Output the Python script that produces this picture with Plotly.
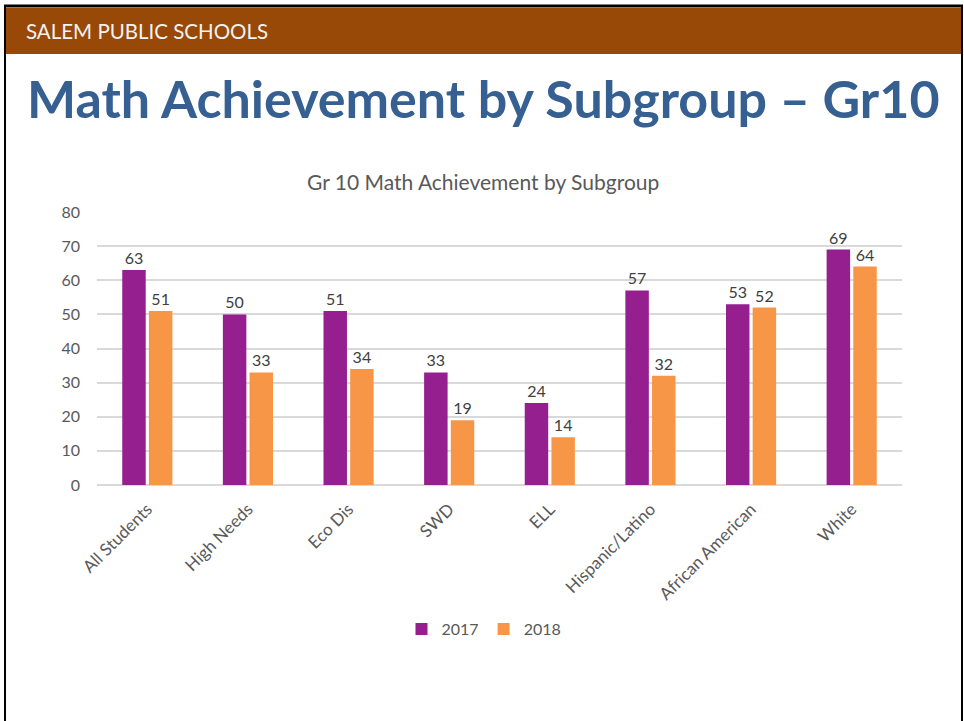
import plotly.graph_objects as go

categories = ["All Students", "High Needs", "Eco Dis", "SWD", "ELL",
              "Hispanic/Latino", "African American", "White"]
values_2017 = [63, 50, 51, 33, 24, 57, 53, 69]
values_2018 = [51, 33, 34, 19, 14, 32, 52, 64]
series_names = ["2017", "2018"]
y_ticks = [0, 10, 20, 30, 40, 50, 60, 70, 80]

W, H = 964, 721
L, R, T, B = 97, 62, 212, 236
font_chart = "Lato, Open Sans, sans-serif"
gray = "#595959"

fig = go.Figure()
fig.add_trace(go.Bar(x=categories, y=values_2017, name=series_names[0],
                     marker=dict(color="#951F8E", line=dict(width=0)),
                     text=values_2017, textposition="outside",
                     textfont=dict(size=16, color="#404040", family=font_chart),
                     cliponaxis=False))
fig.add_trace(go.Bar(x=categories, y=values_2018, name=series_names[1],
                     marker=dict(color="#F79646", line=dict(width=0)),
                     text=values_2018, textposition="outside",
                     textfont=dict(size=16, color="#404040", family=font_chart),
                     cliponaxis=False))

ph = H - T - B

def py(pix):
    return (H - B - pix) / ph

def px(pix):
    return (pix - L) / (W - L - R)

fig.update_layout(
    width=W, height=H,
    margin=dict(l=L, r=R, t=T, b=B),
    paper_bgcolor="white", plot_bgcolor="white",
    barmode="group", bargap=0.47, bargroupgap=0.12,
    showlegend=True,
    legend=dict(orientation="h", x=px(484), xanchor="center", y=py(629), yanchor="middle",
                font=dict(size=16, color=gray, family=font_chart),
                itemwidth=30, traceorder="normal"),
    font=dict(family=font_chart, color=gray),
    xaxis=dict(tickangle=-45, tickfont=dict(size=17, color=gray, family=font_chart),
               showgrid=False, showline=False, ticks="", zeroline=False,
               ticklabelstandoff=10),
    yaxis=dict(range=[0, 80], tickvals=y_ticks, showgrid=True, gridcolor="#D9D9D9",
               gridwidth=1.5, zeroline=True, zerolinecolor="#D9D9D9", zerolinewidth=2,
               tickfont=dict(size=16, color=gray, family=font_chart), ticks="",
               ticklabelstandoff=16),
    shapes=[
        dict(type="rect", xref="paper", yref="paper", x0=px(6), x1=px(961),
             y0=py(54), y1=py(8), fillcolor="#984807", line=dict(width=0), layer="below"),
        dict(type="line", xref="paper", yref="paper", x0=px(5), x1=px(5),
             y0=py(6), y1=py(722), line=dict(color="black", width=2)),
        dict(type="line", xref="paper", yref="paper", x0=px(962), x1=px(962),
             y0=py(6), y1=py(722), line=dict(color="black", width=2)),
        dict(type="line", xref="paper", yref="paper", x0=px(4), x1=px(963),
             y0=py(6), y1=py(6), line=dict(color="black", width=3)),
    ],
    annotations=[
        dict(text="SALEM PUBLIC SCHOOLS", xref="paper", yref="paper", x=px(24), y=py(31),
             xanchor="left", yanchor="middle", showarrow=False,
             font=dict(size=20.5, color="#F2F2F2", family="Lato, sans-serif")),
        dict(text="<b>Math Achievement by Subgroup – Gr10</b>", xref="paper", yref="paper",
             x=px(25), y=py(98), xanchor="left", yanchor="middle", showarrow=False,
             font=dict(size=52, color="#376092", family="Lato, sans-serif")),
        dict(text="Gr 10 Math Achievement by Subgroup", xref="paper", yref="paper",
             x=px(483), y=py(181), xanchor="center", yanchor="middle", showarrow=False,
             font=dict(size=21, color=gray, family=font_chart)),
    ],
)

fig.write_html("out.html", config={"displayModeBar": False},
               post_script="document.body.style.margin='0';document.body.style.overflow='hidden';")
